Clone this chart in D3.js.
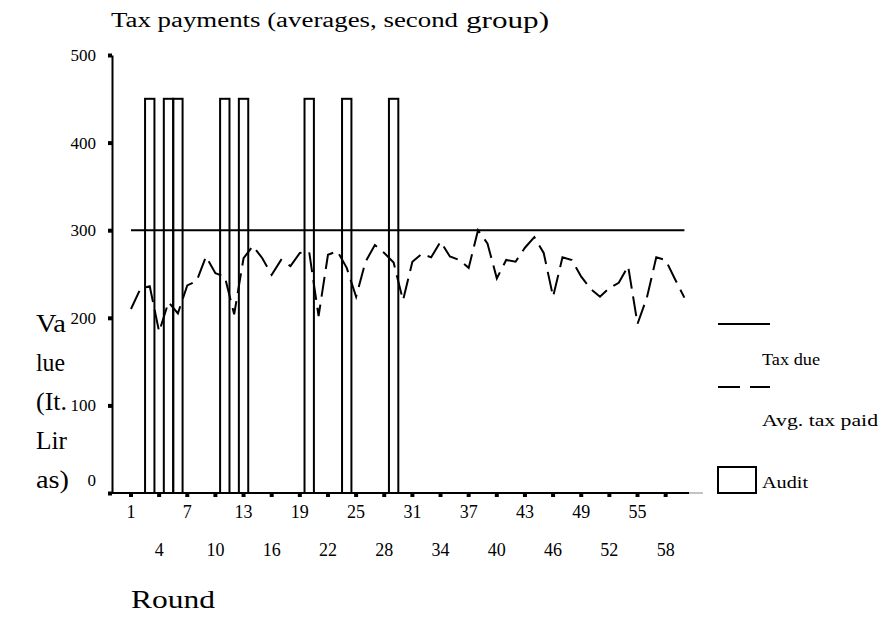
<!DOCTYPE html>
<html>
<head>
<meta charset="utf-8">
<script src="https://cdn.jsdelivr.net/npm/d3@7"></script>
<style>
  body { margin: 0; background: #fff; }
  text { font-family: "Liberation Serif", "Times New Roman", serif; fill: #000; }
</style>
</head>
<body>
<svg id="chart" width="882" height="638"></svg>
<script>
// rounds 1..60
var rounds = d3.range(1, 61);
// average tax paid per round
var avgTaxPaid = [210, 233, 236, 184, 218, 205, 237, 242, 270, 251,
                  247, 204, 268, 282, 268, 249, 266, 259, 274, 275,
                  202, 272, 276, 257, 224, 264, 283, 274, 263, 220,
                  264, 273, 269, 287, 270, 266, 257, 300, 285, 245,
                  266, 264, 280, 292, 274, 224, 269, 266, 247, 233,
                  224, 234, 240, 259, 193, 223, 269, 266, 244, 223];
var taxDue = 300;
var auditRounds = [3, 5, 6, 11, 13, 20, 24, 29];
var auditValue = 450;
var yTicks = [0, 100, 200, 300, 400, 500];
var xTicks = [1, 4, 7, 10, 13, 16, 19, 22, 25, 28, 31, 34, 37, 40, 43, 46, 49, 52, 55, 58];
var yTitle = ["Va", "lue", "(It.", "Lir", "as)"];
var legendLabels = ["Tax due", "Avg. tax paid", "Audit"];

var svg = d3.select("#chart");
var serif = '"Liberation Serif", "Times New Roman", serif';

var x = d3.scaleBand().domain(rounds).range([126.3, 689.1]).padding(0);
var y = d3.scaleLinear().domain([0, 500]).range([493, 55]);
var cx = function(r) { return x(r) + x.bandwidth() / 2; };

// the source text is set wider than plain Times, so stretch to the measured width
function wideText(px, py, size, str, width) {
  var t = svg.append("text")
      .attr("x", px).attr("y", py)
      .style("font-size", size + "px")
      .text(str);
  if (width) t.attr("textLength", width).attr("lengthAdjust", "spacingAndGlyphs");
  return t;
}

// title
wideText(111, 27, 20, "Tax payments (averages, second", 347);
wideText(466, 28, 24, "group)", 83);

// audit bars
svg.append("g").selectAll("rect")
    .data(auditRounds)
  .enter().append("rect")
    .attr("x", function(d) { return x(d); })
    .attr("y", y(auditValue))
    .attr("width", x.bandwidth())
    .attr("height", function() { return y(0) - y(auditValue); })
    .attr("fill", "none")
    .attr("stroke", "#000")
    .attr("stroke-width", 2);

// tax due line
svg.append("line")
    .attr("x1", cx(rounds[0])).attr("x2", cx(rounds[rounds.length - 1]))
    .attr("y1", y(taxDue)).attr("y2", y(taxDue))
    .attr("stroke", "#000").attr("stroke-width", 2);

// avg tax paid (dashed)
var line = d3.line()
    .x(function(d, i) { return cx(rounds[i]); })
    .y(function(d) { return y(d); });

svg.append("path")
    .datum(avgTaxPaid)
    .attr("d", line)
    .attr("fill", "none")
    .attr("stroke", "#000")
    .attr("stroke-width", 2)
    .attr("stroke-dasharray", "20,8");

// y axis
var yAxis = svg.append("g")
    .attr("transform", "translate(112,0)")
    .call(d3.axisLeft(y).tickValues(yTicks).tickSize(4).tickSizeOuter(0).tickPadding(12));
yAxis.select(".domain").attr("stroke-width", 2);
yAxis.selectAll(".tick line").attr("stroke-width", 4);
yAxis.selectAll(".tick text")
    .style("font-family", serif)
    .style("font-size", "17px")
    .attr("dy", function(d) { return d === 0 ? "-0.45em" : "0.32em"; });

// x axis
var xAxis = svg.append("g")
    .attr("transform", "translate(0,493)")
    .call(d3.axisBottom(x).tickValues(xTicks).tickSize(4).tickSizeOuter(0));
xAxis.select(".domain").remove();
xAxis.selectAll(".tick line").attr("stroke-width", 4);
xAxis.selectAll(".tick text")
    .style("font-family", serif)
    .style("font-size", "18px")
    .attr("dy", null)
    .attr("y", function(d, i) { return i % 2 === 0 ? 25 : 63; });

svg.append("line")
    .attr("x1", 110).attr("x2", 689).attr("y1", 493).attr("y2", 493)
    .attr("stroke", "#000").attr("stroke-width", 2);
svg.append("line")
    .attr("x1", 689).attr("x2", 703).attr("y1", 493).attr("y2", 493)
    .attr("stroke", "#888").attr("stroke-width", 1);

// axis titles
var yTitleW = [30, 29, 31, 31, 33];
yTitle.forEach(function(s, i) {
  wideText(36, 332 + i * 39, 25, s, yTitleW[i]);
});
wideText(131, 608, 25, "Round", 84);

// legend
svg.append("line").attr("x1", 718).attr("x2", 770).attr("y1", 324).attr("y2", 324)
    .attr("stroke", "#000").attr("stroke-width", 2);
svg.append("line").attr("x1", 718).attr("x2", 770).attr("y1", 387).attr("y2", 387)
    .attr("stroke", "#000").attr("stroke-width", 2).attr("stroke-dasharray", "22,10");
svg.append("rect").attr("x", 718).attr("y", 467).attr("width", 38).attr("height", 26)
    .attr("fill", "none").attr("stroke", "#000").attr("stroke-width", 2);
var legendY = [365, 426, 488];
var legendW = [58, 116, 46];
legendLabels.forEach(function(s, i) {
  wideText(762, legendY[i], 16, s, legendW[i]);
});
</script>
</body>
</html>
